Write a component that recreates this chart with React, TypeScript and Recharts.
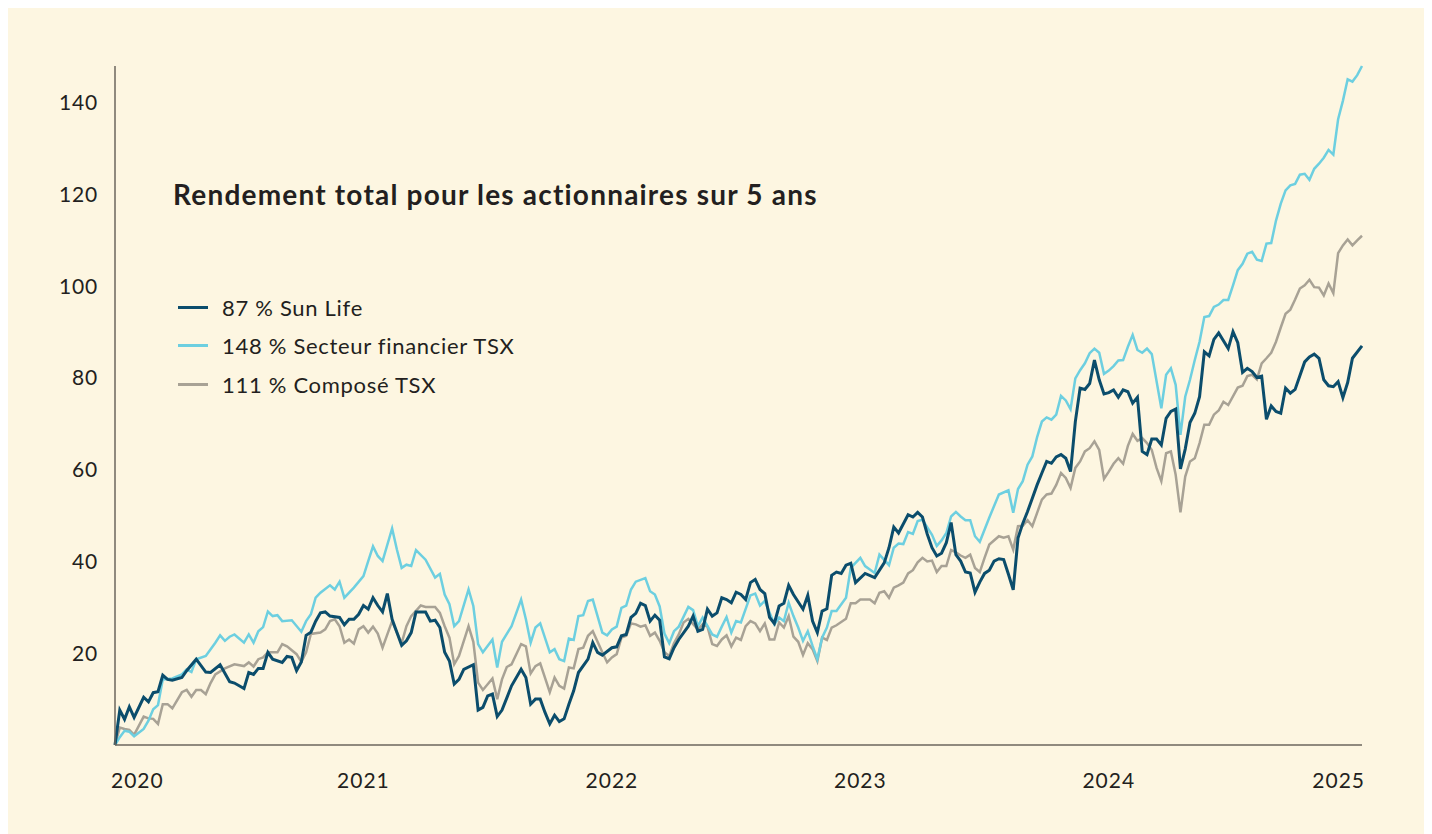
import React from "react";
import { LineChart, Line, XAxis, YAxis } from "recharts";

// weekly total return (%), [week since start of 2020, value]
const sunLife: [number, number][] = [
  [0, 0], [1, 7.6], [2, 5.6], [3, 8.3], [4, 6], [6, 10.4], [7, 9.4], [8, 11.4], [9, 11.6], [10, 15.2],
  [11, 14.3], [12, 14.1], [14, 14.7], [15, 16.2], [17, 18.7], [19, 15.9], [20, 15.8], [22, 17.5], [24, 13.8], [25, 13.5],
  [27, 12.3], [28, 15.8], [29, 15.4], [30, 16.7], [31, 16.7], [32, 20.2], [33, 18.7], [35, 18], [36, 19.3], [37, 19.1],
  [38, 16.2], [39, 18.1], [40, 23.9], [41, 24.6], [42, 27], [43, 28.8], [44, 29], [45, 28.1], [47, 27.8], [48, 26.2],
  [49, 27.4], [50, 27.4], [51, 28.5], [52, 30.4], [53, 29.6], [54, 32.1], [55, 30.4], [56, 29], [57, 33], [58, 27.4],
  [60, 21.7], [61, 22.7], [62, 24.5], [63, 29], [65, 29], [66, 27], [67, 27.2], [68, 25.6], [69, 20.2], [70, 18.3],
  [71, 13.3], [72, 14.3], [73, 16.5], [75, 17.5], [76, 7.6], [77, 8.2], [78, 10.7], [79, 11.1], [80, 6.2], [81, 7.6],
  [83, 12.9], [85, 16.5], [86, 14.7], [87, 8.9], [88, 10], [89, 10], [90, 7.1], [91, 4.6], [92, 6.5], [93, 5.1],
  [94, 5.7], [95, 8.9], [96, 11.8], [97, 15.8], [99, 18.7], [100, 22.3], [101, 20.2], [102, 19.6], [104, 21.2], [105, 21.4],
  [106, 23.8], [107, 24.1], [108, 27.8], [109, 28.7], [110, 30.9], [111, 30.4], [112, 27], [113, 28.3], [114, 27.2], [115, 19.2],
  [116, 18.8], [117, 21.2], [118, 23], [120, 25.9], [121, 28.1], [122, 24.8], [123, 25.2], [124, 29.6], [125, 28.1], [126, 28.8],
  [127, 32.1], [128, 31.7], [129, 31], [130, 33.3], [131, 32.8], [132, 31.7], [133, 35.4], [134, 36.1], [135, 33.9], [136, 33],
  [137, 27.8], [138, 26.5], [139, 30.3], [140, 30.9], [141, 34.8], [142, 32.8], [144, 29.6], [145, 32.6], [146, 27], [147, 24.5],
  [148, 29.2], [149, 29.7], [150, 37], [151, 37.7], [152, 37.4], [153, 39.2], [154, 39.6], [155, 35.4], [157, 37.4], [159, 36.5],
  [161, 39.7], [162, 43], [163, 47.5], [164, 46.2], [166, 50.2], [167, 49.7], [168, 50.7], [169, 49.7], [170, 46], [171, 43],
  [172, 41.2], [173, 41.8], [174, 44.1], [175, 48.5], [176, 41.5], [177, 40.1], [178, 37.7], [179, 37.5], [180, 33.3], [181, 35.5],
  [182, 37.4], [183, 38.1], [184, 40.1], [185, 40.6], [186, 40.4], [187, 37.2], [188, 33.8], [189, 45.1], [190, 48.3], [191, 50.9],
  [192, 53.8], [193, 56.7], [194, 59.3], [195, 61.8], [196, 61.4], [197, 62.8], [198, 63.3], [199, 62.5], [200, 59.6], [201, 70.5],
  [202, 77.8], [203, 77.5], [204, 78.8], [205, 83.9], [206, 79.6], [207, 76.5], [208, 76.8], [209, 77.4], [210, 75.8], [211, 77.4],
  [212, 77], [213, 74.5], [214, 75.8], [215, 64], [216, 63.3], [217, 66.7], [218, 66.7], [219, 65.4], [220, 71.2], [221, 72.7],
  [222, 73.2], [223, 60.2], [224, 64.5], [225, 70.3], [226, 72.3], [227, 75.9], [228, 85.7], [229, 84.8], [230, 88.4], [231, 89.8],
  [233, 86.4], [234, 90.1], [235, 87.7], [236, 81.2], [237, 82.1], [238, 81.4], [239, 80.1], [240, 80.4], [241, 71], [242, 73.9],
  [243, 72.7], [244, 72.3], [245, 77.8], [246, 76.7], [247, 77.5], [249, 83.5], [250, 84.6], [251, 85.2], [252, 84.3], [253, 79.6],
  [254, 78.3], [255, 78.1], [256, 79.2], [257, 75.7], [258, 79], [259, 84.3], [261, 87],
];

const tsxFinancials: [number, number][] = [
  [0, 0], [1, 1.7], [2, 3.1], [3, 2.9], [4, 1.9], [6, 3.5], [7, 5.3], [8, 7.8], [9, 8.7], [10, 14.3],
  [12, 14.5], [14, 15.4], [15, 16.5], [16, 15.9], [17, 18.7], [19, 19.4], [21, 22.3], [22, 23.9], [23, 22.7], [24, 23.6],
  [25, 24.1], [27, 22.3], [28, 24.1], [29, 22.3], [30, 24.8], [31, 25.7], [32, 29.1], [33, 28.1], [34, 28.3], [35, 27],
  [37, 27.2], [39, 24.7], [40, 27], [41, 28.5], [42, 32.1], [43, 33.2], [45, 34.8], [46, 33.9], [47, 35.6], [48, 32.1],
  [50, 34.3], [52, 36.8], [53, 40.1], [54, 43.3], [55, 41.2], [56, 40.1], [58, 47.2], [59, 42.6], [60, 38.6], [61, 39.3],
  [62, 39], [63, 42.5], [65, 40.4], [67, 36.5], [68, 37.3], [69, 32.8], [70, 30.7], [71, 25.9], [72, 27], [74, 33.9],
  [75, 30.3], [76, 22], [77, 20.2], [79, 23], [80, 16.9], [81, 22.5], [83, 25.9], [85, 31.7], [86, 27.4], [87, 22.3],
  [88, 25.6], [89, 26.5], [91, 20.2], [92, 20.9], [93, 18.7], [94, 18.3], [95, 23.2], [96, 22.9], [97, 28.1], [98, 28.3],
  [99, 31.4], [100, 31.7], [102, 24.5], [103, 23.9], [104, 25.2], [105, 25.8], [106, 29.9], [107, 30.4], [108, 33.9], [109, 35.6],
  [111, 36.4], [112, 33.5], [113, 32.8], [114, 30.2], [115, 24.3], [116, 22.2], [117, 24.8], [118, 25.8], [120, 30.1], [121, 29.4],
  [122, 25.9], [123, 27.8], [125, 24.1], [126, 23.6], [127, 25.8], [128, 27.9], [129, 24.5], [130, 27], [131, 26.7], [133, 32.6],
  [134, 33], [135, 30.4], [136, 31.4], [138, 26.3], [139, 27.8], [140, 27], [141, 31], [142, 28.1], [143, 25.6], [144, 22.7],
  [145, 24.8], [146, 21.6], [147, 18.7], [148, 23.4], [149, 25.6], [150, 29.2], [151, 29.2], [153, 32.1], [154, 38.6], [156, 40.8],
  [157, 39], [159, 37.5], [160, 41.5], [162, 39.2], [163, 43], [164, 43.9], [165, 43.8], [166, 46.4], [167, 46], [168, 48.8],
  [169, 49.1], [171, 45.8], [172, 43.4], [173, 44.6], [174, 46.2], [175, 49.8], [176, 50.8], [177, 49.8], [178, 49], [179, 49],
  [180, 45.5], [181, 44.3], [183, 49.6], [185, 54.6], [187, 55.5], [188, 50.6], [189, 55.8], [190, 57.5], [191, 61.1], [192, 62.9],
  [193, 67.1], [194, 70.5], [195, 71.4], [196, 70.9], [197, 72], [198, 76.1], [199, 75.1], [200, 73.2], [201, 79.9], [202, 81.7],
  [203, 83.2], [204, 85.4], [205, 86.4], [206, 85.5], [207, 80.9], [208, 81.6], [209, 82.6], [210, 83.8], [211, 83.9], [212, 86.8],
  [213, 89.4], [214, 86.1], [215, 85.5], [216, 86.4], [217, 85.2], [219, 73.4], [220, 80.7], [221, 82.1], [222, 78.5], [223, 67.6],
  [224, 75.9], [225, 79.6], [226, 83.9], [227, 87.9], [228, 93.3], [229, 93.5], [230, 95.5], [231, 96], [232, 97], [233, 97],
  [234, 100.2], [235, 103.5], [236, 104.9], [237, 107.1], [238, 107.5], [239, 105.8], [240, 105.5], [241, 109.3], [242, 109.4], [243, 114.3],
  [244, 118], [245, 120.9], [246, 122], [247, 122.3], [248, 124.3], [249, 124.5], [250, 123.2], [251, 125.6], [252, 126.7], [253, 128],
  [254, 129.7], [255, 128.7], [256, 136.4], [257, 140.4], [258, 145.1], [259, 144.6], [260, 146], [261, 148],
];

const tsxComposite: [number, number][] = [
  [0, 0], [1, 3.8], [2, 3.5], [3, 3.3], [4, 2.2], [6, 6.2], [7, 5.8], [8, 5.7], [9, 4.6], [10, 8.9],
  [11, 8.9], [12, 8], [14, 11.5], [15, 12], [16, 10.5], [17, 12], [18, 12], [19, 11.1], [20, 13.5], [21, 15.4],
  [23, 16.7], [25, 17.6], [27, 17.2], [28, 18], [29, 17.1], [30, 18.7], [31, 19.1], [32, 20.2], [34, 20.2], [35, 22],
  [36, 21.5], [38, 19.8], [39, 18.1], [40, 20.2], [41, 24.2], [43, 24.5], [44, 25.2], [45, 27], [46, 27.4], [47, 25.9],
  [48, 22.3], [49, 23], [50, 22.1], [51, 25.2], [52, 25.9], [53, 24.5], [54, 25.8], [55, 24.3], [56, 21.2], [58, 27],
  [59, 24.5], [60, 22.2], [61, 25.9], [62, 28.1], [64, 30.4], [65, 30.1], [67, 30.1], [68, 28.8], [69, 25.9], [70, 23.4],
  [71, 17.6], [72, 19.4], [74, 25.9], [75, 22.5], [76, 13.6], [77, 12], [79, 14.5], [80, 10], [81, 14.3], [82, 17],
  [83, 17.6], [85, 22], [86, 21.5], [87, 15.6], [88, 17.2], [89, 17.8], [91, 11.5], [92, 14.7], [93, 12.9], [94, 12.3],
  [95, 16.9], [96, 16.7], [97, 20.9], [98, 21.2], [99, 23.8], [100, 24.8], [102, 20.2], [103, 18], [104, 19.1], [105, 19.8],
  [106, 23.4], [107, 23.8], [108, 26.5], [109, 26.3], [110, 25.8], [111, 26.1], [112, 23.8], [113, 24.5], [114, 22.7], [115, 20.2],
  [116, 19.4], [117, 22.2], [118, 24.1], [119, 26.7], [120, 27.5], [122, 25.2], [123, 26.3], [124, 25.8], [125, 22], [126, 21.6],
  [127, 23], [128, 23.9], [129, 21.5], [130, 23.4], [131, 22.9], [132, 25.9], [133, 27], [134, 26.5], [135, 24.8], [136, 26.5],
  [137, 23], [138, 23], [139, 26.7], [140, 25.6], [141, 28.1], [142, 23.6], [143, 22.5], [144, 19.6], [145, 22.2], [146, 20.9],
  [147, 18.3], [148, 23.4], [149, 22.9], [150, 25.6], [151, 26.1], [153, 27.5], [154, 30.9], [155, 30.9], [156, 31.7], [158, 31.7],
  [159, 30.9], [160, 33.2], [161, 33.5], [162, 32.1], [163, 34.3], [164, 34.8], [165, 35.4], [166, 37.4], [167, 38.1], [168, 39.8],
  [169, 40.8], [170, 40], [171, 40.2], [172, 37.7], [173, 39], [174, 39], [175, 42.5], [176, 42], [177, 41.3], [178, 40.8],
  [179, 41.5], [180, 38.6], [181, 37.7], [182, 40.8], [183, 43.7], [185, 45.5], [186, 45.2], [187, 45.5], [188, 42.6], [189, 47.7],
  [190, 47.8], [191, 49], [192, 47.7], [193, 50.6], [194, 53.5], [195, 54.6], [196, 54.8], [197, 56.7], [198, 59.3], [199, 58.2],
  [200, 56], [201, 60.4], [202, 61.8], [203, 64], [204, 64.7], [205, 66.2], [206, 64.3], [207, 58], [208, 59.6], [209, 61.3],
  [210, 62.5], [211, 61.3], [212, 65.2], [213, 67.8], [214, 66.3], [215, 66.9], [216, 65.8], [217, 64.3], [218, 60.4], [219, 57.5],
  [220, 63.6], [221, 64], [222, 58.9], [223, 50.7], [224, 58.5], [225, 61.8], [226, 62.5], [227, 65.8], [228, 69.8], [229, 69.8],
  [230, 72], [231, 72.9], [232, 74.8], [233, 74.1], [235, 77.9], [236, 78.3], [237, 80.4], [238, 80.7], [239, 79.7], [240, 83.2],
  [241, 84.3], [242, 85.5], [243, 87.9], [244, 91], [245, 94], [246, 94.9], [247, 97.1], [248, 99.5], [249, 100.2], [250, 101.4],
  [251, 99.8], [252, 99.7], [253, 98], [254, 100.6], [255, 98.5], [256, 107.2], [257, 108.9], [258, 110.2], [259, 108.9], [260, 110],
  [261, 111],
];

const yearWeeks = [0, 52, 104, 156, 208, 261];
const yearLabels = ["2020", "2021", "2022", "2023", "2024", "2025"];
const valueTicks = [20, 40, 60, 80, 100, 120, 140];

const series = [
  { name: "87 % Sun Life", color: "#0b4d6c", width: 3, points: sunLife },
  { name: "148 % Secteur financier TSX", color: "#6dcfe0", width: 2.5, points: tsxFinancials },
  { name: "111 % Composé TSX", color: "#a8a295", width: 2.5, points: tsxComposite },
];

const toRows = (pts: [number, number][]) => pts.map(([week, value]) => ({ week, value }));

const FONT = "Lato, 'Open Sans', sans-serif";
const INK = "#231f20";

const YearTick = (props: any) => {
  const { x, y, payload, index } = props;
  const last = yearWeeks.length - 1;
  const anchor = index === 0 ? "start" : index === last ? "end" : "middle";
  const dx = index === 0 ? -4 : index === last ? 3 : 0;
  const i = yearWeeks.indexOf(payload.value);
  return (
    <text
      x={x + dx}
      y={y + 36}
      dy="0.35em"
      textAnchor={anchor}
      fill={INK}
      fontSize={21}
      letterSpacing={1}
      fontFamily={FONT}
    >
      {yearLabels[i]}
    </text>
  );
};

export default function App() {
  return (
    <div style={{ position: "relative", width: 1416, height: 826, background: "#fdf6e1", fontFamily: FONT }}>
      <LineChart width={1416} height={826} margin={{ top: 58, right: 62, bottom: 39, left: 0 }}>
        <XAxis
          type="number"
          dataKey="week"
          domain={[0, 261]}
          ticks={yearWeeks}
          tick={<YearTick />}
          tickLine={false}
          tickSize={0}
          tickMargin={0}
          height={50}
          axisLine={{ stroke: "#6b665d", strokeWidth: 1.5 }}
          allowDuplicatedCategory={false}
        />
        <YAxis
          type="number"
          dataKey="value"
          domain={[0, 148]}
          ticks={valueTicks}
          width={107}
          tickLine={false}
          tickSize={0}
          tickMargin={17}
          axisLine={{ stroke: "#6b665d", strokeWidth: 1.5 }}
          tick={{ fill: INK, fontSize: 21, fontFamily: FONT, letterSpacing: 0.8 }}
        />
        {[...series].reverse().map((s) => (
          <Line
            key={s.name}
            data={toRows(s.points)}
            dataKey="value"
            name={s.name}
            type="linear"
            stroke={s.color}
            strokeWidth={s.width}
            dot={false}
            activeDot={false}
            isAnimationActive={false}
          />
        ))}
      </LineChart>

      <div
        style={{
          position: "absolute",
          left: 165,
          top: 171,
          fontSize: 28,
          lineHeight: "30px",
          letterSpacing: 1.2,
          fontWeight: 700,
          color: INK,
          whiteSpace: "nowrap",
        }}
      >
        Rendement total pour les actionnaires sur 5 ans
      </div>

      <div style={{ position: "absolute", left: 170, top: 280 }}>
        {series.map((s) => (
          <div key={s.name} style={{ display: "flex", alignItems: "center", height: 38.5 }}>
            <div style={{ width: 30, height: 3, background: s.color, marginRight: 14 }} />
            <span style={{ fontSize: 22, letterSpacing: 0.7, color: INK, whiteSpace: "nowrap" }}>{s.name}</span>
          </div>
        ))}
      </div>
    </div>
  );
}
